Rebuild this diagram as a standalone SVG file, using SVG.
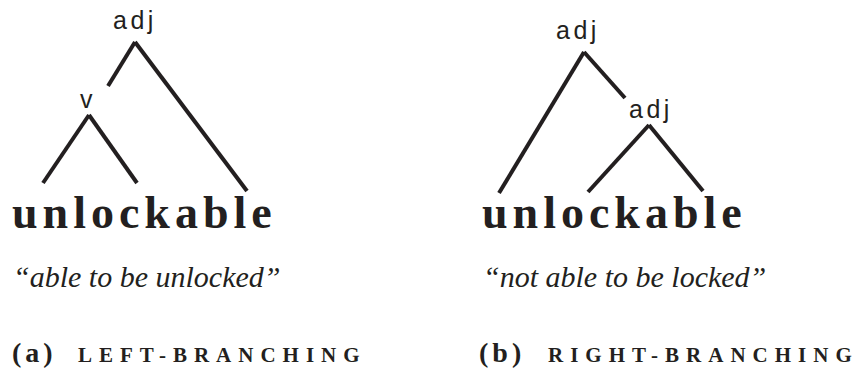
<svg xmlns="http://www.w3.org/2000/svg" width="862" height="369" viewBox="0 0 862 369">
  <style>
    .cat { font-family: "Liberation Sans", Arial, sans-serif; font-size: 25px; fill: #231f20; letter-spacing: 3.5px; text-anchor: middle; }
    .serif { font-family: "Liberation Serif", "Times New Roman", Tinos, "DejaVu Serif", serif; }
    .word { font-weight: bold; font-size: 46px; fill: #231f20; letter-spacing: 5px; }
    .gloss { font-style: italic; font-size: 30px; fill: #231f20; }
    .lab { font-weight: bold; fill: #231f20; }
    .lbl-letter { font-size: 28px; letter-spacing: 4px; }
    .lbl-caps { font-size: 21px; letter-spacing: 7px; }
    .edge { stroke: #231f20; stroke-width: 4; fill: none; stroke-linecap: butt; }
  </style>
  <rect width="862" height="369" fill="#ffffff"/>

  <g id="connectors">
    <line class="edge" x1="135" y1="42" x2="108" y2="86"/>
    <line class="edge" x1="135" y1="42" x2="247" y2="191"/>
    <line class="edge" x1="89" y1="115" x2="43" y2="183"/>
    <line class="edge" x1="89" y1="115" x2="137" y2="183"/>
    <line class="edge" x1="584" y1="52" x2="499" y2="193"/>
    <line class="edge" x1="584" y1="52" x2="625" y2="98"/>
    <line class="edge" x1="649" y1="125" x2="588" y2="192"/>
    <line class="edge" x1="649" y1="125" x2="703" y2="191"/>
  </g>

  <g id="node-left-adj"><text class="cat" x="135" y="29">adj</text></g>
  <g id="node-left-v"><text class="cat" x="88" y="108">v</text></g>
  <g id="node-left-word"><text class="serif word" font-family="Liberation Serif, serif" x="12" y="228">unlockable</text></g>
  <g id="node-left-gloss"><text class="serif gloss" x="13" y="287">“able to be unlocked”</text></g>
  <g id="node-left-caption">
    <text class="serif lab lbl-letter" x="12" y="362">(a)</text>
    <text class="serif lab lbl-caps" x="78" y="362">LEFT-BRANCHING</text>
  </g>

  <g id="node-right-adj-top"><text class="cat" x="578" y="39">adj</text></g>
  <g id="node-right-adj-sub"><text class="cat" x="651" y="118">adj</text></g>
  <g id="node-right-word"><text class="serif word" x="482" y="228">unlockable</text></g>
  <g id="node-right-gloss"><text class="serif gloss" x="483" y="287">“not able to be locked”</text></g>
  <g id="node-right-caption">
    <text class="serif lab lbl-letter" x="479" y="362">(b)</text>
    <text class="serif lab lbl-caps" x="548" y="362">RIGHT-BRANCHING</text>
  </g>
</svg>
